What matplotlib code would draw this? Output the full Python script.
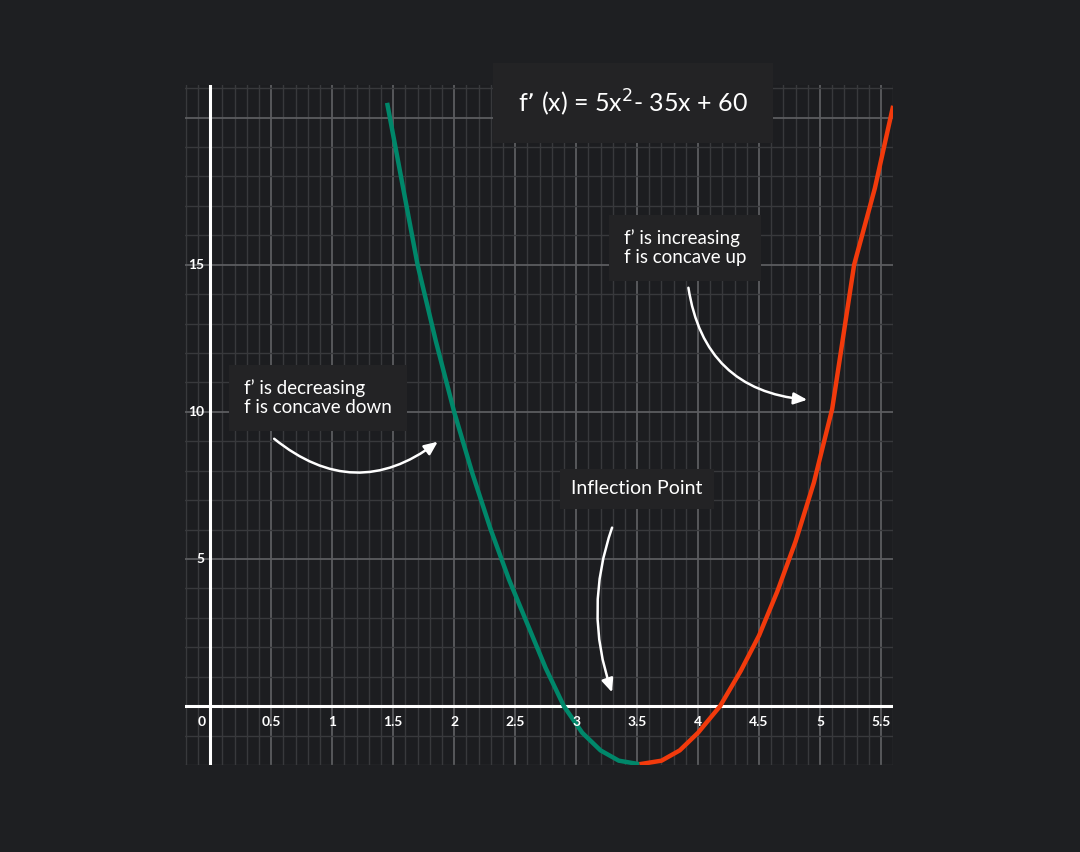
import matplotlib
matplotlib.use("Agg")
import matplotlib.pyplot as plt
import numpy as np
from matplotlib.ticker import MultipleLocator

# Data
green_x = [1.45, 1.55, 1.7, 1.85, 2.0, 2.15, 2.3, 2.45, 2.6, 2.75, 2.9, 3.05, 3.2, 3.35, 3.52]
green_y = [20.5, 18.3, 15.0, 12.4, 10.0, 7.9, 6.0, 4.3, 2.8, 1.3, 0.0, -0.9, -1.5, -1.85, -1.97]
red_x = [3.52, 3.7, 3.85, 4.0, 4.18, 4.35, 4.5, 4.65, 4.8, 4.95, 5.1, 5.28, 5.45, 5.6]
red_y = [-1.97, -1.85, -1.5, -0.9, 0.0, 1.2, 2.4, 3.9, 5.6, 7.6, 10.1, 15.0, 17.6, 20.4]
x_ticks = [0, 0.5, 1, 1.5, 2, 2.5, 3, 3.5, 4, 4.5, 5, 5.5]
x_tick_labels = ["0", "0.5", "1", "1.5", "2", "2.5", "3", "3.5", "4", "4.5", "5", "5.5"]
y_ticks = [5, 10, 15]
y_tick_labels = ["5", "10", "15"]

BG = "#1e1f22"
plt.rcParams['font.family'] = ['Lato', 'DejaVu Sans']
fig = plt.figure(figsize=(10.8, 8.52), dpi=100, facecolor=BG)
ax = fig.add_axes([0.171, 0.102, 0.656, 0.798], facecolor="#1c1d20")
ax.set_xlim(-0.21, 5.6)
ax.set_ylim(-2.0, 21.1)
for s in ax.spines.values():
    s.set_visible(False)
ax.xaxis.set_major_locator(MultipleLocator(0.5))
ax.xaxis.set_minor_locator(MultipleLocator(0.1))
ax.yaxis.set_major_locator(MultipleLocator(5))
ax.yaxis.set_minor_locator(MultipleLocator(1))
ax.grid(which='minor', color="#38393c", lw=1.0)
ax.grid(which='major', color="#5c5d60", lw=1.3)
ax.tick_params(which='both', length=0, labelbottom=False, labelleft=False)
ax.set_axisbelow(True)

ax.axhline(0, color="white", lw=2.2, zorder=3)
ax.axvline(0, color="white", lw=2.2, zorder=3)

ax.plot(green_x, green_y, color="#00876a", lw=3.2, zorder=4, solid_capstyle='butt')
ax.plot(red_x, red_y, color="#f23a0c", lw=3.2, zorder=4, solid_capstyle='butt')

for xv, lab in zip(x_ticks, x_tick_labels):
    ax.text(xv - 0.07 if xv == 0 else xv, -0.55, lab, color="white", fontsize=10, fontweight='bold',
            ha='center', va='center', zorder=5)
for yv, lab in zip(y_ticks, y_tick_labels):
    ax.text(-0.05, yv, lab, color="white", fontsize=10, fontweight='bold',
            ha='right', va='center', zorder=5)

box = dict(boxstyle="square,pad=0.8", fc="#232325", ec="none")
fig.text(633/1080, 1 - 103/852, "f\u2019 (x) = 5x$^2$- 35x + 60", color="white", fontsize=18,
         ha='center', va='center', bbox=dict(boxstyle="square,pad=1.0", fc="#232325", ec="none"), zorder=6)
fig.text(244/1080, 1 - 398/852, "f\u2019 is decreasing\nf is concave down", color="white", fontsize=13.5,
         ha='left', va='center', linespacing=1.15, bbox=box, zorder=6)
fig.text(624/1080, 1 - 248/852, "f\u2019 is increasing\nf is concave up", color="white", fontsize=13.5,
         ha='left', va='center', linespacing=1.15, bbox=box, zorder=6)
fig.text(637/1080, 1 - 489/852, "Inflection Point", color="white", fontsize=14,
         ha='center', va='center', bbox=dict(boxstyle="square,pad=0.6", fc="#232325", ec="none"), zorder=6)

arr = dict(arrowstyle="-|>,head_length=0.8,head_width=0.35", color="white", lw=1.8)
ax.annotate("", xy=(440, 852 - 440), xycoords='figure pixels', xytext=(272, 852 - 437),
            textcoords='figure pixels', arrowprops=dict(**arr, connectionstyle="arc3,rad=0.4"), zorder=7)
ax.annotate("", xy=(810, 852 - 400), xycoords='figure pixels', xytext=(688, 852 - 285),
            textcoords='figure pixels', arrowprops=dict(**arr, connectionstyle="arc3,rad=0.4"), zorder=7)
ax.annotate("", xy=(613, 852 - 695), xycoords='figure pixels', xytext=(613, 852 - 525),
            textcoords='figure pixels', arrowprops=dict(**arr, connectionstyle="arc3,rad=0.18"), zorder=7)

fig.savefig("out.png", dpi=100, facecolor=BG)
